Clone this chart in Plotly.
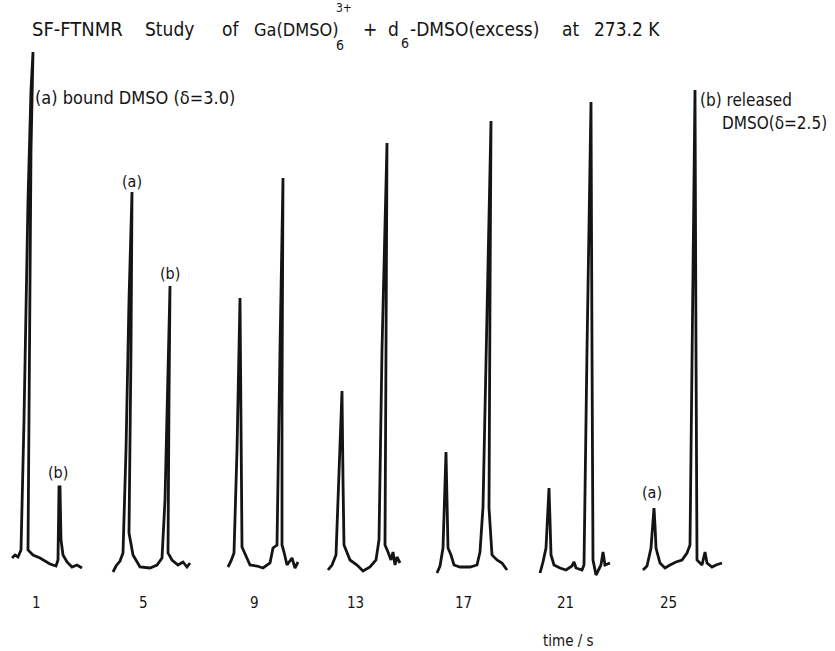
import plotly.graph_objects as go

# ---- data (x: horizontal chart position, y: intensity above baseline) ----
times = [1, 5, 9, 13, 17, 21, 25]
time_label_x = [36, 143, 254, 355, 463, 565, 668]

spec_1_x = [12, 15, 18, 21, 24, 28, 31, 33, 31, 29, 28, 33, 40, 50, 56, 58, 59, 60, 61, 63, 67, 72, 77, 82]
spec_1_y = [7, 10, 8, 15, 145, 365, 475, 513, 415, 165, 15, 10, 7, 1, -1, 5, 78, 78, 25, 10, 3, -2, 0, -3]

spec_5_x = [113, 116, 120, 123, 126, 129, 132, 131, 129, 133, 140, 150, 157, 162, 165, 170, 169, 168, 172, 178, 183, 187, 190]
spec_5_y = [-7, -1, 4, 12, 115, 265, 373, 215, 32, 10, -2, -3, 0, 7, 65, 279, 165, 12, 5, 0, 3, -2, 2]

spec_9_x = [228, 231, 234, 237, 240, 241, 242, 250, 257, 263, 270, 273, 277, 280, 283, 282, 282, 284, 287, 292, 295, 298]
spec_9_y = [-2, 4, 12, 115, 267, 115, 18, 0, -1, -3, 2, 17, 20, 215, 387, 165, 20, 13, 0, 7, -3, 3]

spec_13_x = [328, 332, 336, 339, 342, 343, 344, 350, 357, 363, 370, 376, 379, 382, 387, 386, 385, 388, 391, 393, 395, 397, 400]
spec_13_y = [-5, 0, 10, 85, 174, 85, 20, 5, 0, -6, -2, 5, 25, 215, 422, 215, 20, 13, 5, 13, 0, 8, 2]

spec_17_x = [437, 440, 443, 445, 446, 447, 448, 451, 454, 460, 470, 477, 480, 483, 486, 491, 490, 489, 492, 497, 502, 505, 507]
spec_17_y = [-8, -1, 17, 85, 113, 65, 17, 10, 0, -2, -2, 0, 13, 58, 215, 444, 265, 57, 10, 5, 2, -3, -5]

spec_21_x = [540, 543, 546, 548, 549, 550, 551, 554, 560, 566, 572, 574, 576, 582, 584, 587, 591, 592, 593, 596, 599, 601, 603, 605, 610]
spec_21_y = [-8, 3, 17, 65, 77, 45, 10, 0, -3, -5, -1, 3, -3, -5, 0, 215, 463, 215, 5, -10, -3, 0, 13, 0, 2]

spec_25_x = [643, 647, 651, 653, 654, 655, 656, 660, 665, 670, 676, 682, 687, 690, 692, 695, 696, 697, 702, 705, 707, 712, 716, 722]
spec_25_y = [-5, -1, 17, 50, 57, 40, 17, 2, -3, 0, 3, 5, 12, 20, 215, 475, 215, 5, 0, 13, 2, -2, 0, 2]

spectra_x = [spec_1_x, spec_5_x, spec_9_x, spec_13_x, spec_17_x, spec_21_x, spec_25_x]
spectra_y = [spec_1_y, spec_5_y, spec_9_y, spec_13_y, spec_17_y, spec_21_y, spec_25_y]

FONT = "DejaVu Sans Condensed, DejaVu Sans, sans-serif"
INK = "#141414"

fig = go.Figure()
for t, xs, ys in zip(times, spectra_x, spectra_y):
    fig.add_trace(go.Scatter(x=xs, y=ys, mode="lines", name=f"t = {t} s",
                             line=dict(color=INK, width=2.8, shape="linear"),
                             hoverinfo="skip", showlegend=False))

ann = []
def txt(x, y, s, size, xanchor="center", yanchor="middle"):
    ann.append(dict(x=x, y=y, xref="x", yref="y", text=s, showarrow=False,
                    xanchor=xanchor, yanchor=yanchor,
                    font=dict(family=FONT, size=size, color=INK)))

# title pieces
TY = 536
txt(30, TY, "SF-FTNMR", 20, "left")
txt(143, TY, "Study", 19, "left")
txt(220, TY, "of", 19, "left")
txt(252, TY, "Ga(DMSO)", 18, "left")
txt(334, 557, "3+", 12, "left")
txt(334, 520, "6", 14, "left")
txt(361, TY, "+", 19, "left")
txt(386, TY, "d", 19, "left")
txt(399, 522, "6", 14, "left")
txt(408, TY, "-DMSO(excess)", 19, "left")
txt(560, TY, "at", 19, "left")
txt(592, TY, "273.2 K", 19, "left")

txt(33, 468, "(a) bound DMSO (δ=3.0)", 18, "left")
txt(58, 93, "(b)", 16)
txt(132, 384, "(a)", 16)
txt(170, 292, "(b)", 16)
txt(652, 73, "(a)", 16)
txt(698, 465, "(b) released", 17, "left")
txt(720, 442, "DMSO(δ=2.5)", 17, "left")

for t, x in zip(times, time_label_x):
    txt(x, -38, str(t), 15)
txt(568, -76, "time / s", 15)

fig.update_layout(
    width=835, height=651,
    margin=dict(l=0, r=0, t=0, b=0),
    paper_bgcolor="white", plot_bgcolor="white",
    xaxis=dict(range=[0, 835], visible=False, fixedrange=True),
    yaxis=dict(range=[-86, 565], visible=False, fixedrange=True),
    annotations=ann,
    showlegend=False,
)

fig.write_html("out.html")
